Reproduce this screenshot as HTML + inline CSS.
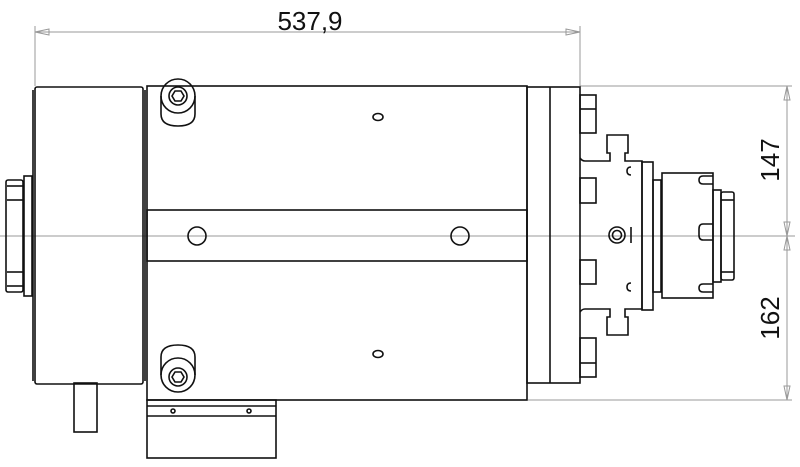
<!DOCTYPE html>
<html><head><style>body{margin:0;background:#fff}svg{display:block}</style></head><body>
<svg width="800" height="467" viewBox="0 0 800 467" xmlns="http://www.w3.org/2000/svg">
<g stroke="#999" stroke-width="1" fill="none">
<line x1="0" y1="236" x2="795" y2="236"/>
<line x1="35" y1="26" x2="35" y2="86"/>
<line x1="580" y1="26" x2="580" y2="86"/>
<line x1="35" y1="32" x2="580" y2="32"/>
<line x1="580" y1="86" x2="792" y2="86"/>
<line x1="528" y1="400" x2="792" y2="400"/>
<line x1="787" y1="86" x2="787" y2="400"/>
<path d="M35 32 l14 -3 v6 z M580 32 l-14 -3 v6 z"/>
<path d="M787 86 l-3 14 h6 z M787 236 l-3 -14 h6 z M787 236 l-3 14 h6 z M787 400 l-3 -14 h6 z"/>
</g>
<text x="310" y="30" font-family="Liberation Sans, sans-serif" font-size="26" text-anchor="middle" fill="#111">537,9</text>
<text transform="translate(779,160) rotate(-90)" font-family="Liberation Sans, sans-serif" font-size="26" text-anchor="middle" fill="#111">147</text>
<text transform="translate(779,318) rotate(-90)" font-family="Liberation Sans, sans-serif" font-size="26" text-anchor="middle" fill="#111">162</text>
<g stroke="#111" stroke-width="1.6" fill="none">
<rect x="35" y="87" width="108" height="297" rx="2"/>
<line x1="33" y1="90" x2="33" y2="381"/>
<line x1="145" y1="90" x2="145" y2="381"/>
<rect x="24" y="176" width="8" height="120"/>
<rect x="6" y="180" width="17" height="112" rx="2"/>
<line x1="7" y1="186" x2="23" y2="186"/><line x1="7" y1="200" x2="23" y2="200"/>
<line x1="7" y1="272" x2="23" y2="272"/><line x1="7" y1="286" x2="23" y2="286"/>
<rect x="74" y="383" width="23" height="49"/>
<rect x="147" y="86" width="380" height="314"/>
<rect x="147" y="210" width="380" height="51"/>
<circle cx="197" cy="236" r="9"/><circle cx="460" cy="236" r="9"/>
<ellipse cx="378" cy="117" rx="5" ry="3.5"/><ellipse cx="378" cy="354" rx="5" ry="3.5"/>
<path d="M161 96 v18 q0 12 17 12 q17 0 17 -12 v-18"/>
<circle cx="178" cy="96" r="17"/><circle cx="178" cy="96" r="9"/><path d="M172 96 l3 -5 h6 l3 5 l-3 5 h-6 z"/>
<path d="M161 375 v-18 q0 -12 17 -12 q17 0 17 12 v18"/>
<circle cx="178" cy="375" r="17"/><circle cx="178" cy="377" r="9"/><path d="M172 377 l3 -5 h6 l3 5 l-3 5 h-6 z"/>
<rect x="147" y="400" width="129" height="58"/>
<line x1="147" y1="406" x2="276" y2="406"/><line x1="147" y1="416" x2="276" y2="416"/>
<circle cx="173" cy="411" r="2"/><circle cx="249" cy="411" r="2"/>
<rect x="527" y="87" width="53" height="296"/>
<line x1="550" y1="87" x2="550" y2="383"/>
<rect x="580" y="95" width="16" height="38"/><line x1="580" y1="109" x2="596" y2="109"/>
<rect x="580" y="178" width="16" height="25"/>
<rect x="580" y="260" width="16" height="24"/>
<rect x="580" y="338" width="16" height="39"/><line x1="580" y1="363" x2="596" y2="363"/>
<path d="M580 158 q2 3 5 3 h25 v-8 h-3 v-18 h21 v18 h-3 v8 h17 v148 h-17 v8 h3 v18 h-21 v-18 h3 v-8 h-25 q-3 0 -5 3"/>
<rect x="642" y="162" width="11" height="148"/>
<rect x="653" y="180" width="8" height="112"/>
<rect x="662" y="173" width="51" height="125"/>
<rect x="713" y="190" width="8" height="92"/>
<rect x="721" y="192" width="13" height="88" rx="2"/>
<line x1="721" y1="200" x2="734" y2="200"/><line x1="721" y1="272" x2="734" y2="272"/>
<circle cx="617" cy="235" r="8"/><circle cx="617" cy="235" r="4.5"/>
<path d="M703 176 h10 M703 176 q-4 0 -4 4 q0 4 4 4 h10"/>
<path d="M703 224 h10 M703 224 q-4 0 -4 5 v6 q0 5 4 5 h10"/>
<path d="M703 284 h10 M703 284 q-4 0 -4 4 q0 4 4 4 h10"/>
<path d="M631 167 q-4 0 -4 4 q0 4 4 4"/><path d="M631 283 q-4 0 -4 4 q0 4 4 4"/>
<path d="M631 227 v16"/>
</g>
</svg>
</body></html>
